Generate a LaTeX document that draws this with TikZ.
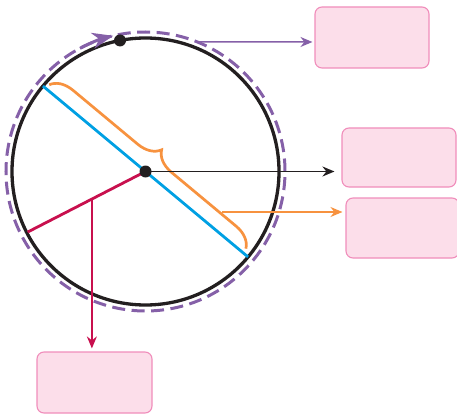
\documentclass[tikz,border=0pt]{standalone}
\usetikzlibrary{arrows.meta,decorations.pathreplacing,calc}
\definecolor{cpurple}{HTML}{8560A8}
\definecolor{cblue}{HTML}{00A0E3}
\definecolor{corange}{HTML}{F7923F}
\definecolor{cred}{HTML}{C8104E}
\definecolor{cfill}{HTML}{FCDEEA}
\definecolor{cborder}{HTML}{F08DBB}
\definecolor{cblack}{HTML}{231F20}
\begin{document}
\begin{tikzpicture}[x=1pt,y=1pt,
  box/.style={draw=cborder,fill=cfill,line width=1.1pt,rounded corners=7pt,inner sep=0pt},
  conn/.style={line width=1.5pt},
  dotc/.style={fill=cblack}]
\useasboundingbox (0,0) rectangle (457,-414);
\coordinate (C) at (145.5,-171.5);
% boxes
\node[box,minimum width=114pt,minimum height=61pt] (b1) at (372,-37.5) {};
\node[box,minimum width=114pt,minimum height=59pt] (b2) at (399,-157.5) {};
\node[box,minimum width=113pt,minimum height=60pt] (b3) at (402.5,-228) {};
\node[box,minimum width=115pt,minimum height=61pt] (b4) at (94.5,-382.5) {};
% circles
\draw[cpurple,line width=3pt,dash pattern=on 13pt off 6.5pt] (C) circle (139.5);
\draw[cblack,line width=3.3pt] (C) circle (133.5);
% diameter and radius
\coordinate (B1) at ($(C)+(140.2:133.5)$);
\coordinate (B2) at ($(C)+(-39.8:133.5)$);
\coordinate (R) at ($(C)+(207.2:132.5)$);
\draw[cblue,line width=2.8pt] (B1) -- (B2);
\draw[cred,line width=2.8pt] (C) -- (R);
% brace
\draw[corange,line width=2.7pt,decorate,decoration={brace,amplitude=22pt,raise=5pt}]
  ($(B1)!4pt!(B2)$) -- ($(B1)!260pt!(B2)$);
% purple arrow on dashed circle
\draw[cpurple,line width=3pt,-{Stealth[length=21pt,width=16pt]}]
  ($(C)+(118:139.5)$) arc[start angle=118,end angle=103.4,radius=139.5];
% connectors
\coordinate (p1) at ($(C)+(68.3:139.5)$);
\coordinate (p2) at ($(b1.west)+(-2,-4.5)$);
\draw[cpurple,conn,-{Stealth[length=12pt,width=10pt]}] (p1) -- (p2);
\coordinate (k2) at ($(b2.west)+(-7,-14)$);
\draw[cblack,conn,-{Stealth[length=12pt,width=10pt]}] (C) -- (k2);
\coordinate (o1) at (222,-212);
\coordinate (o2) at ($(b3.west)+(-3,16)$);
\draw[corange,conn,-{Stealth[length=12pt,width=10pt]}] (o1) -- (o2);
\coordinate (r1) at ($(C)!0.455!(R)$);
\coordinate (r2) at ($(b4.north)+(-2.5,3)$);
\draw[cred,conn,-{Stealth[length=12pt,width=10pt]}] (r1) -- (r1 |- r2);
% dots
\fill[dotc] (C) circle (6);
\fill[dotc] ($(C)+(101:133.5)$) circle (6);
\end{tikzpicture}
\end{document}
